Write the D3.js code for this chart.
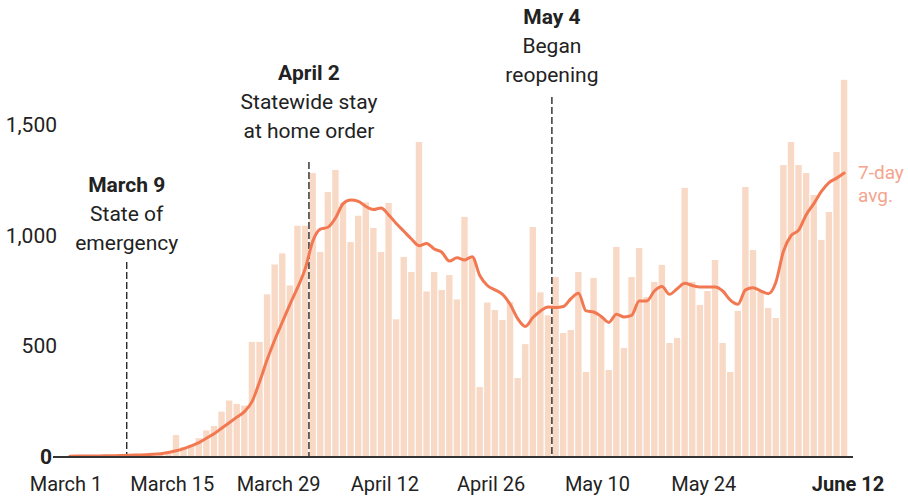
<!DOCTYPE html>
<html>
<head>
<meta charset="utf-8">
<script src="https://cdn.jsdelivr.net/npm/d3@7"></script>
<style>
  body { margin: 0; background: #fff; }
  svg { display: block; font-family: "Liberation Sans Narrow", "Roboto", "Liberation Sans", sans-serif; }
</style>
</head>
<body>
<div id="chart"></div>
<script>
// daily new cases, March 1 .. June 11
var dailyCases = [
  0, 1, 0, 2, 1, 3, 2, 4, 5, 3, 8, 6, 10, 15,
  99, 45, 55, 85, 120, 140, 205, 255, 240, 232, 520, 520, 735, 870, 920, 775, 1045, 1045,
  1283, 926, 1197, 1297, 1148, 971, 1090, 1150, 1035, 926, 1148, 622, 904, 836, 1423, 748,
  836, 755, 822, 712, 1085, 899, 316, 698, 664, 619, 700, 357, 510, 1039, 744, 640,
  813, 560, 574, 836, 384, 809, 633, 393, 949, 493, 813, 944, 723, 791, 868, 515, 538, 1216,
  791, 687, 750, 890, 515, 384, 660, 1220, 935, 746, 673, 628, 1319, 1423, 1319, 1283, 1184,
  981, 1107, 1378, 1704
];

// 7-day average as drawn
var avg7Day = [
  3, 4, 4, 5, 5, 6, 6, 7, 8, 9, 10, 12, 15,
  20, 28, 38, 50, 65, 85, 105, 130, 155, 180, 205, 250, 340, 440, 530, 610, 690, 765, 850,
  975, 1030, 1038, 1080, 1145, 1161, 1155, 1132, 1118, 1125, 1094, 1055, 1020, 985, 955, 965,
  940, 925, 885, 900, 890, 905, 820, 775, 755, 735, 690, 625, 590, 630, 660, 678,
  676, 680, 715, 740, 660, 655, 635, 608, 645, 633, 640, 705, 705, 750, 770, 735, 760, 785,
  775, 768, 768, 768, 750, 709, 690, 755, 765, 750, 738, 790, 930, 1000, 1025, 1095, 1145,
  1200, 1240, 1260, 1283
];

var yTicks = [0, 500, 1000, 1500];
var xTickDates = ["2020-03-01", "2020-03-15", "2020-03-29", "2020-04-12", "2020-04-26", "2020-05-10", "2020-05-24", "2020-06-12"];
var xTickLabels = ["March 1", "March 15", "March 29", "April 12", "April 26", "May 10", "May 24", "June 12"];

var eventDates = ["2020-03-09", "2020-04-02", "2020-05-04"];
var eventTitles = ["March 9", "April 2", "May 4"];
var eventNotes = [["State of", "emergency"], ["Statewide stay", "at home order"], ["Began", "reopening"]];

var width = 908, height = 500;
var parse = d3.utcParse("%Y-%m-%d");
var start = parse("2020-03-01"), end = parse("2020-06-12");
var days = d3.utcDay.range(start, end);

var x = d3.scaleUtc().domain([start, end]).range([66, 848]);
var y = d3.scaleLinear().domain([0, 1500]).range([457, 125]);
var dayW = x(d3.utcDay.offset(start, 1)) - x(start);

var svg = d3.select("#chart").append("svg")
    .attr("width", width)
    .attr("height", height);

// bars
svg.append("g").selectAll("rect")
    .data(dailyCases)
    .enter()
    .append("rect")
    .attr("x", function (d, i) { return x(days[i]) + 0.5; })
    .attr("width", dayW - 1.2)
    .attr("y", function (d) { return y(d); })
    .attr("height", function (d) { return y(0) - y(d); })
    .attr("fill", "#f8d9c6");

// event lines
svg.append("g").selectAll("line")
    .data(eventDates)
    .enter()
    .append("line")
    .attr("x1", function (d) { return x(parse(d)); })
    .attr("x2", function (d) { return x(parse(d)); })
    .attr("y1", function (d, i) { return [262, 162, 97][i]; })
    .attr("y2", y(0))
    .attr("stroke", "#1a1a1a")
    .attr("stroke-width", 1.3)
    .attr("stroke-dasharray", "7,3");

// 7-day avg line
var line = d3.line()
    .x(function (d, i) { return x(days[i]) + dayW / 2; })
    .y(function (d) { return y(d); })
    .curve(d3.curveMonotoneX);

svg.append("path")
    .datum(avg7Day)
    .attr("d", line)
    .attr("fill", "none")
    .attr("stroke", "#f27852")
    .attr("stroke-width", 3)
    .attr("stroke-linejoin", "round")
    .attr("stroke-linecap", "round");

// baseline and zero tick
svg.append("line")
    .attr("x1", 58).attr("x2", 853)
    .attr("y1", y(0)).attr("y2", y(0))
    .attr("stroke", "#333")
    .attr("stroke-width", 2);
svg.append("line")
    .attr("x1", 53).attr("x2", 59)
    .attr("y1", y(0)).attr("y2", y(0))
    .attr("stroke", "#333")
    .attr("stroke-width", 2);

// y labels
svg.append("g").selectAll("text")
    .data(yTicks)
    .enter()
    .append("text")
    .attr("x", function (d) { return d === 0 ? 52 : 57; })
    .attr("y", function (d) { return y(d) + 7; })
    .attr("text-anchor", "end")
    .attr("font-size", 21)
    .attr("font-weight", function (d) { return d === 0 ? "bold" : "normal"; })
    .attr("fill", "#222")
    .text(function (d) { return d3.format(",")(d); });

// x labels
svg.append("g").selectAll("text")
    .data(xTickDates)
    .enter()
    .append("text")
    .attr("x", function (d) { return x(parse(d)); })
    .attr("y", 491)
    .attr("text-anchor", "middle")
    .attr("font-size", 20)
    .attr("font-weight", function (d, i) { return i == xTickDates.length - 1 ? "bold" : "normal"; })
    .attr("fill", "#222")
    .text(function (d, i) { return xTickLabels[i]; });

// event annotations
var titleY = [192, 80, 24];
eventDates.forEach(function (d, i) {
    var g = svg.append("g")
        .attr("transform", "translate(" + x(parse(d)) + "," + titleY[i] + ")")
        .attr("text-anchor", "middle")
        .attr("fill", "#222");
    g.append("text")
        .attr("font-size", 21)
        .attr("font-weight", "bold")
        .text(eventTitles[i]);
    eventNotes[i].forEach(function (t, j) {
        g.append("text")
            .attr("y", 29 * (j + 1))
            .attr("font-size", 21)
            .text(t);
    });
});

// series label
var lbl = svg.append("g")
    .attr("fill", "#f4a48e")
    .attr("font-size", 19);
lbl.append("text").attr("x", 858).attr("y", 179).text("7-day");
lbl.append("text").attr("x", 858).attr("y", 202).text("avg.");
</script>
</body>
</html>
